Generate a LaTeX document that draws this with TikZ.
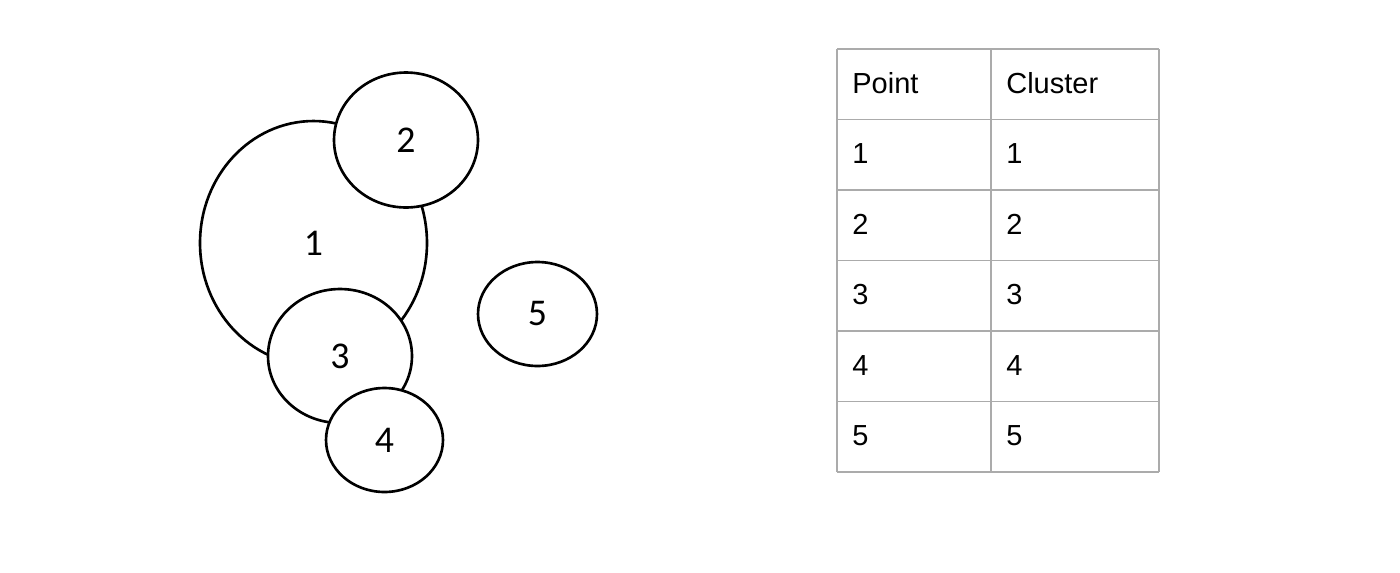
\documentclass[tikz,border=0pt]{standalone}
\usepackage{fontspec}
\setmainfont{Liberation Sans}
\newfontfamily\calfont{Carlito}
\usetikzlibrary{shapes.geometric}

\begin{document}
\begin{tikzpicture}[x=0.02cm, y=-0.02cm,
	blob/.style={ellipse, draw, line width=1.5pt, fill=white, inner sep=0pt, font=\calfont\fontsize{21.5}{24}\selectfont},
	cell/.style={anchor=base west, inner sep=0pt, font=\fontsize{16.5}{18}\selectfont},
	grid/.style={draw=black!33, line width=1.1pt}]
	\useasboundingbox (0,0) rectangle (1400,572);

	% clusters
	\node [blob, minimum width=4.54cm, minimum height=4.88cm] (p1) at (313.5,243) {1};
	\node [blob, minimum width=2.88cm, minimum height=2.70cm] (p2) at (406,140) {2};
	\node [blob, minimum width=2.88cm, minimum height=2.68cm] (p3) at (340,356) {3};
	\node [blob, minimum width=2.34cm, minimum height=2.08cm] (p4) at (384.5,440) {4};
	\node [blob, minimum width=2.38cm, minimum height=2.08cm] (p5) at (537.5,314) {5};

	% table
	\foreach \i in {0,...,6}
		\draw [grid] (837,{49+70.5*\i}) -- (1159,{49+70.5*\i});
	\foreach \x in {837,991,1159}
		\draw [grid] (\x,49) -- (\x,472);
	\node [cell] (head1) at (852,93) {Point};
	\node [cell] (head2) at (1006,93) {Cluster};
	\foreach \i in {1,...,5} {
		\node [cell] (pt\i) at (852,{93+70.5*\i}) {\i};
		\node [cell] (cl\i) at (1006,{93+70.5*\i}) {\i};
	}
\end{tikzpicture}
\end{document}
